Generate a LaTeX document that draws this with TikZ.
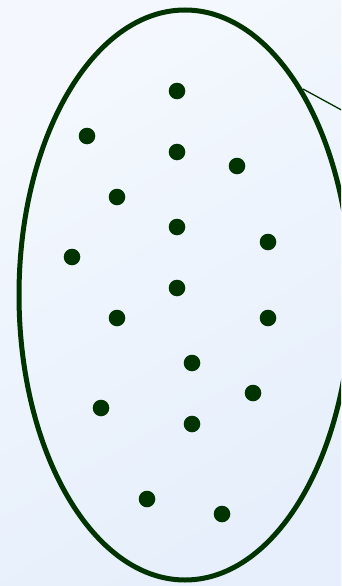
\documentclass[tikz,border=0pt]{standalone}
\usetikzlibrary{shapes.geometric}
\definecolor{dkgreen}{HTML}{003300}
\definecolor{bgA}{HTML}{F4F8FE}
\definecolor{bgB}{HTML}{E6EFFB}
\begin{document}
\begin{tikzpicture}[x=1pt,y=-1pt,
  dot/.style={circle,fill=dkgreen,draw=none,inner sep=0pt,minimum size=16.6pt},
  setshape/.style={ellipse,draw=dkgreen,line width=5pt,inner sep=0pt,minimum width=332pt,minimum height=570pt},
  link/.style={draw=dkgreen,line width=1.3pt}]
\useasboundingbox (0,0) rectangle (341,586);
\clip (0,0) rectangle (341,586);
\shade[top color=bgA,bottom color=bgB,shading angle=30] (0,0) rectangle (341,586);
\node[setshape] (set) at (185,295) {};
\coordinate (la) at (303,89);
\coordinate (lb) at (347,113);
\draw[link] (la) -- (lb);
\node[dot] (d1) at (177,91) {};
\node[dot] (d2) at (87,136) {};
\node[dot] (d3) at (177,152) {};
\node[dot] (d4) at (237,166) {};
\node[dot] (d5) at (117,197) {};
\node[dot] (d6) at (177,227) {};
\node[dot] (d7) at (268,242) {};
\node[dot] (d8) at (72,257) {};
\node[dot] (d9) at (177,288) {};
\node[dot] (d10) at (117,318) {};
\node[dot] (d11) at (268,318) {};
\node[dot] (d12) at (192,363) {};
\node[dot] (d13) at (253,393) {};
\node[dot] (d14) at (101,408) {};
\node[dot] (d15) at (192,424) {};
\node[dot] (d16) at (147,499) {};
\node[dot] (d17) at (222,514) {};
\end{tikzpicture}
\end{document}
